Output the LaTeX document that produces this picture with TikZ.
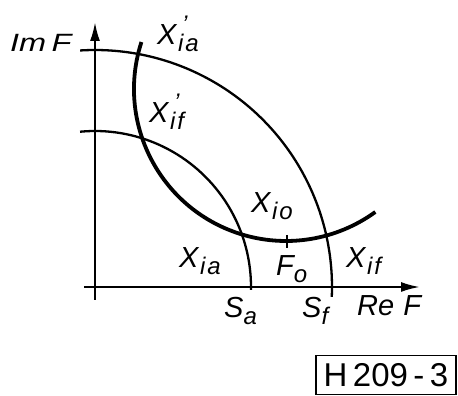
\documentclass[tikz,border=0pt]{standalone}
\usepackage{fontspec}
\setmainfont{Liberation Sans}
\usetikzlibrary{arrows.meta}
\newcommand\sbx[1]{\raisebox{-7pt}{\fontsize{24}{24}\selectfont\addfontfeature{LetterSpace=8} #1}}
\newcommand\Xs[1]{X\kern1.5pt\sbx{#1}}
\newcommand\Xp[1]{X\kern1.5pt\rlap{\kern4pt\raisebox{12pt}{\fontsize{24}{24}\selectfont '}}\sbx{#1}}
\begin{document}
\begin{tikzpicture}[x=1pt,y=1pt,
  axis/.style={line width=2.2pt,-{Latex[length=19pt,width=10pt]}},
  arcline/.style={line width=2.3pt},
  locus/.style={line width=3.8pt},
  lbl/.style={inner sep=0pt,anchor=base west,font=\fontsize{29}{29}\selectfont\itshape},
  tag/.style={draw,line width=1.8pt,minimum width=140pt,minimum height=39pt,inner sep=0pt,font=\fontsize{33}{33}\selectfont}
]
\useasboundingbox (0,0) rectangle (458,396);
\coordinate (O) at (95,109);
\coordinate (C) at (286,307);
\draw[axis] (95,96) -- (95,374);
\draw[axis] (84,109) -- (420,109);
\draw[arcline] ([shift={(93.6:237)}]O) arc[start angle=93.6,end angle=-2.4,radius=237];
\draw[arcline] ([shift={(95.5:156)}]O) arc[start angle=95.5,end angle=-1.1,radius=156];
\draw[locus] ([shift={(162:152)}]C) arc[start angle=162,end angle=306,radius=152];
\coordinate (t1) at (287,161);
\coordinate (t2) at (287,148);
\draw[line width=2pt] (t1) -- (t2);
\node[lbl,font=\fontsize{25}{25}\selectfont\itshape] (imf) at (10,344) {\scalebox{1.3}[1]{Im\hspace{4pt}F}};
\node[lbl] (xiap) at (157,351) {\Xp{ia}};
\node[lbl] (xifp) at (149,273) {\Xp{if}};
\node[lbl] (xio) at (251,183) {\Xs{io}};
\node[lbl] (xia) at (179,128) {\Xs{ia}};
\node[lbl] (fo) at (276,120) {F\sbx{o}};
\node[lbl] (xif) at (346,128) {\Xs{if}};
\node[lbl] (sa) at (224,78) {S\sbx{a}};
\node[lbl] (sf) at (302,78) {S\sbx{f}};
\node[lbl] (ref) at (357,80) {Re\hspace{9pt}F};
\node[tag] (hbox) at (386,21) {H\,209\,-\,3};
\end{tikzpicture}
\end{document}
